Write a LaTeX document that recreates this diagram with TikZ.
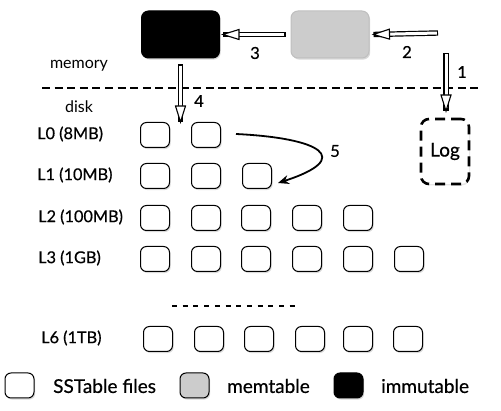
\documentclass[tikz,border=0pt]{standalone}
\usepackage{fontspec}
\setmainfont{Lato}[FakeBold=0.6]
\newfontfamily\plainlato{Lato}
\usetikzlibrary{arrows.meta,shadows,decorations.markings}
\begin{document}
\begin{tikzpicture}[x=1pt,y=-1pt,
  font=\fontsize{16.3}{18}\selectfont,
  sst/.style={draw=black, line width=1pt, fill=white, rounded corners=6pt,
    minimum width=29pt, minimum height=25pt, inner sep=0pt,
    drop shadow={shadow xshift=1.2pt, shadow yshift=-1.6pt, opacity=0.3}},
  memtab/.style={sst, draw=black!25, fill=black!20, rounded corners=7pt},
  immtab/.style={sst, fill=black, rounded corners=7pt},
  bigbox/.style={minimum width=78pt, minimum height=47pt},
  hollow/.style={draw=black, line width=5.4pt,
    postaction={draw=white, line width=3pt, shorten <=1.2pt, shorten >=3pt},
    postaction={decorate, decoration={markings,
      mark=at position 1 with {\draw[draw=black, line width=1.1pt, fill=white, line join=miter]
        (0,0) -- (-16pt,5pt) -- (-16pt,-5pt) -- cycle;}}}},
  curvearrow/.style={draw=black, line width=1.8pt, -{Stealth[length=11pt,width=9pt]}},
  lvl/.style={anchor=west, inner sep=0pt},
  legtext/.style={anchor=west, inner sep=0pt, font=\fontsize{19}{21}\selectfont},
  num/.style={inner sep=0pt, font=\fontsize{16.5}{18}\selectfont},
  area/.style={inner sep=0pt, font=\plainlato\fontsize{16}{18}\selectfont},
  sepline/.style={draw=black, line width=1.8pt, dash pattern=on 8pt off 4.6pt},
  logbox/.style={draw=black, fill=white, line width=2.6pt, rounded corners=8pt, dash pattern=on 10pt off 6pt,
    minimum width=48pt, minimum height=65pt, inner sep=0pt, font=\fontsize{19}{21}\selectfont,
    drop shadow={shadow xshift=1pt, shadow yshift=-1.4pt, opacity=0.2}},
]
\useasboundingbox (0,0) rectangle (501,411);

% memory boxes
\node[immtab, bigbox] (imm) at (180.5,34.5) {};
\node[memtab, bigbox] (mem) at (330,34.5) {};
\coordinate (in2) at (438,33);
\coordinate (in1) at (446,53);
\coordinate (in1e) at (446,111);
\coordinate (in4e) at (180.5,122);

% separator
\coordinate (sepL) at (42,88);
\coordinate (sepR) at (482,88);
\draw[sepline] (sepL) -- (sepR);
\node[area] (memlab) at (79,66) {memory};
\node[area] (disklab) at (79,107) {disk};

% Log
\node[logbox] (log) at (445,151.5) {Log};

% SSTables
\foreach \x [count=\i] in {155,206} \node[sst] (s0\i) at (\x,135) {};
\foreach \x [count=\i] in {155,206,257} \node[sst] (s1\i) at (\x,176) {};
\foreach \x [count=\i] in {155,206,256,307,358} \node[sst] (s2\i) at (\x,218) {};
\foreach \x [count=\i] in {155,206,256,307,358,409} \node[sst] (s3\i) at (\x,259) {};
\foreach \x [count=\i] in {158,209,259,310,358,408} \node[sst] (s6\i) at (\x,339) {};

% level labels
\node[lvl] (l0) at (37,134) {L0 (8MB)};
\node[lvl] (l1) at (37,175) {L1 (10MB)};
\node[lvl] (l2) at (38,217) {L2 (100MB)};
\node[lvl] (l3) at (38,258) {L3 (1GB)};
\node[lvl] (l6) at (41,338) {L6 (1TB)};

% dots
\coordinate (dotL) at (172,306);
\coordinate (dotR) at (297,306);
\draw[line width=1.5pt, dash pattern=on 5pt off 5.7pt] (dotL) -- (dotR);

% arrows
\draw[hollow] (in2) -- ([xshift=4pt]mem.east);
\draw[hollow] ([xshift=-5pt]mem.west) -- ([xshift=3pt]imm.east);
\draw[hollow] (in1) -- (in1e);
\draw[hollow] ([yshift=-6pt]imm.south) -- (in4e);
\coordinate (c5s) at (236,134);
\coordinate (c5e) at (278,183);
\draw[curvearrow] (c5s) .. controls (320,138) and (355,158) .. (c5e);

% numbers
\node[num] (n1) at (462,72) {1};
\node[num] (n2) at (407,52) {2};
\node[num] (n3) at (255,53) {3};
\node[num] (n4) at (199,101) {4};
\node[num] (n5) at (335,151) {5};

% legend
\node[sst] (kw) at (19.5,385.5) {};
\node[sst, fill=black!20] (kg) at (194.5,385.5) {};
\node[sst, fill=black] (kb) at (348.5,385.5) {};
\node[legtext] (tw) at (53,386) {SSTable files};
\node[legtext] (tg) at (227,386) {memtable};
\node[legtext] (tb) at (381,386) {immutable};
\end{tikzpicture}
\end{document}
